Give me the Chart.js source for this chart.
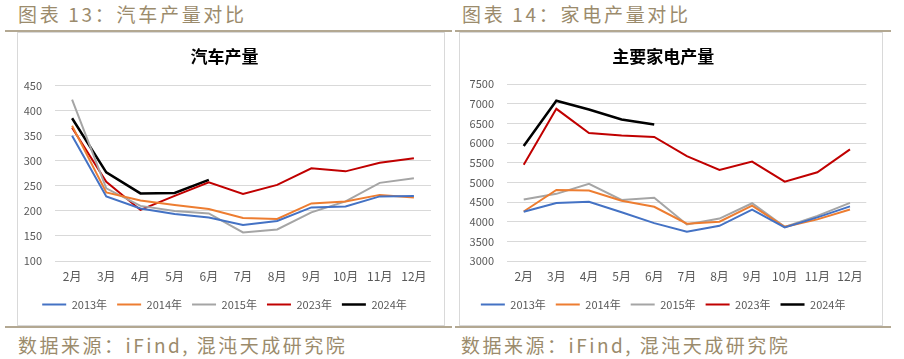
<!DOCTYPE html>
<html><head><meta charset="utf-8">
<script src="https://cdn.jsdelivr.net/npm/chart.js@4.4.1/dist/chart.umd.min.js"></script>
<style>
html,body{margin:0;padding:0;background:#fff;width:904px;height:359px;overflow:hidden;position:relative;font-family:"Noto Sans CJK SC",sans-serif;}
.hd{position:absolute;color:#9b8b6c;font-size:19px;letter-spacing:2.7px;line-height:20px;white-space:nowrap;}
.ft{letter-spacing:2.5px;}
.rule{position:absolute;height:1.5px;background:#b3a892;}
.frame{position:absolute;border:1px solid #d9d9d9;background:#fff;box-sizing:border-box;}
.cv{position:absolute;}
</style></head><body>
<div class="hd" style="left:18px;top:4px;">图表 13：汽车产量对比</div>
<div class="hd" style="left:462px;top:4px;">图表 14：家电产量对比</div>
<div class="rule" style="left:5px;top:30px;width:447px;"></div>
<div class="rule" style="left:455px;top:30px;width:436px;"></div>
<div class="frame" style="left:17px;top:32px;width:428px;height:294px;"></div>
<div class="frame" style="left:459px;top:32px;width:424px;height:294px;"></div>
<div class="cv" style="left:18px;top:33px;width:426px;height:292px;"><canvas id="c1"></canvas></div>
<div class="cv" style="left:460px;top:33px;width:422px;height:292px;"><canvas id="c2"></canvas></div>
<div class="rule" style="left:5px;top:326px;width:447px;"></div>
<div class="rule" style="left:455px;top:326px;width:436px;"></div>
<div class="hd ft" style="left:18px;top:335px;">数据来源：iFind, 混沌天成研究院</div>
<div class="hd ft" style="left:461px;top:335px;">数据来源：iFind, 混沌天成研究院</div>
<script>
const months = ['2月','3月','4月','5月','6月','7月','8月','9月','10月','11月','12月'];
const seriesNames = ['2013年','2014年','2015年','2023年','2024年'];
const seriesColors = ['#4472C4','#ED7D31','#A5A5A5','#C00000','#000000'];

const car2013 = [350,229,205,194,187,172,180,207,209,229,230];
const car2014 = [370,237,221,212,204,186,184,215,219,232,227];
const car2015 = [422,245,210,200,195,157,163,197,219,256,265];
const car2023 = [366,258,202,230,257,234,252,285,279,296,305];
const car2024 = [385,277,235,236,262];
const carTicks = {min:100, max:450, step:50};

const app2013 = [4255,4477,4510,4240,3965,3743,3897,4310,3855,4110,4390];
const app2014 = [4260,4810,4795,4535,4380,3950,4000,4410,3870,4060,4310];
const app2015 = [4565,4710,4965,4555,4610,3930,4080,4470,3870,4150,4480];
const app2023 = [5450,6875,6260,6194,6160,5670,5320,5533,5020,5260,5843];
const app2024 = [5930,7080,6860,6604,6475];
const appTicks = {min:3000, max:7500, step:500};

const FONT = '"Noto Sans CJK SC", sans-serif';

function makeChart(id, title, data, ticks, g) {
  const datasets = data.map((d, i) => ({
    label: seriesNames[i],
    data: d,
    borderColor: seriesColors[i],
    backgroundColor: seriesColors[i],
    borderWidth: i === 4 ? 2.5 : 2,
    pointRadius: 0,
    pointStyle: 'line',
    tension: 0,
    fill: false
  }));
  return new Chart(document.getElementById(id), {
    type: 'line',
    data: { labels: months, datasets },
    options: {
      responsive: true,
      maintainAspectRatio: false,
      animation: false,
      events: [],
      layout: { padding: { left: 0, right: g.right, top: 0, bottom: 5 } },
      plugins: {
        title: {
          display: true, text: title, color: '#000',
          font: { family: FONT, size: 17, weight: 'bold', lineHeight: 1.2 },
          padding: { top: 13.8, bottom: g.titleBottom }
        },
        legend: {
          position: 'bottom',
          labels: {
            color: '#595959', font: { family: FONT, size: 11 },
            usePointStyle: true, pointStyle: 'line', pointStyleWidth: 24, padding: 10
          }
        },
        tooltip: { enabled: false }
      },
      scales: {
        x: {
          offset: true,
          grid: { display: false, drawTicks: false },
          border: { display: false },
          ticks: { color: '#595959', font: { family: FONT, size: 12 }, padding: 8, maxRotation: 0, autoSkip: false },
          afterFit: s => { s.height = 28; }
        },
        y: {
          min: ticks.min, max: ticks.max,
          grid: { color: '#d9d9d9', lineWidth: 1, drawTicks: false },
          border: { display: false },
          ticks: { stepSize: ticks.step, autoSkip: false, color: '#595959', font: { family: FONT, size: 11 }, padding: g.ypad,
                   callback: v => String(v) },
          afterFit: s => { s.width = g.yw; }
        }
      }
    }
  });
}

makeChart('c1', '汽车产量', [car2013, car2014, car2015, car2023, car2024], carTicks,
  { right: 13, yw: 37, ypad: 13, titleBottom: 18.5 });
makeChart('c2', '主要家电产量', [app2013, app2014, app2015, app2023, app2024], appTicks,
  { right: 15.7, yw: 47.4, ypad: 13.4, titleBottom: 17.1 });
</script>
</body></html>
